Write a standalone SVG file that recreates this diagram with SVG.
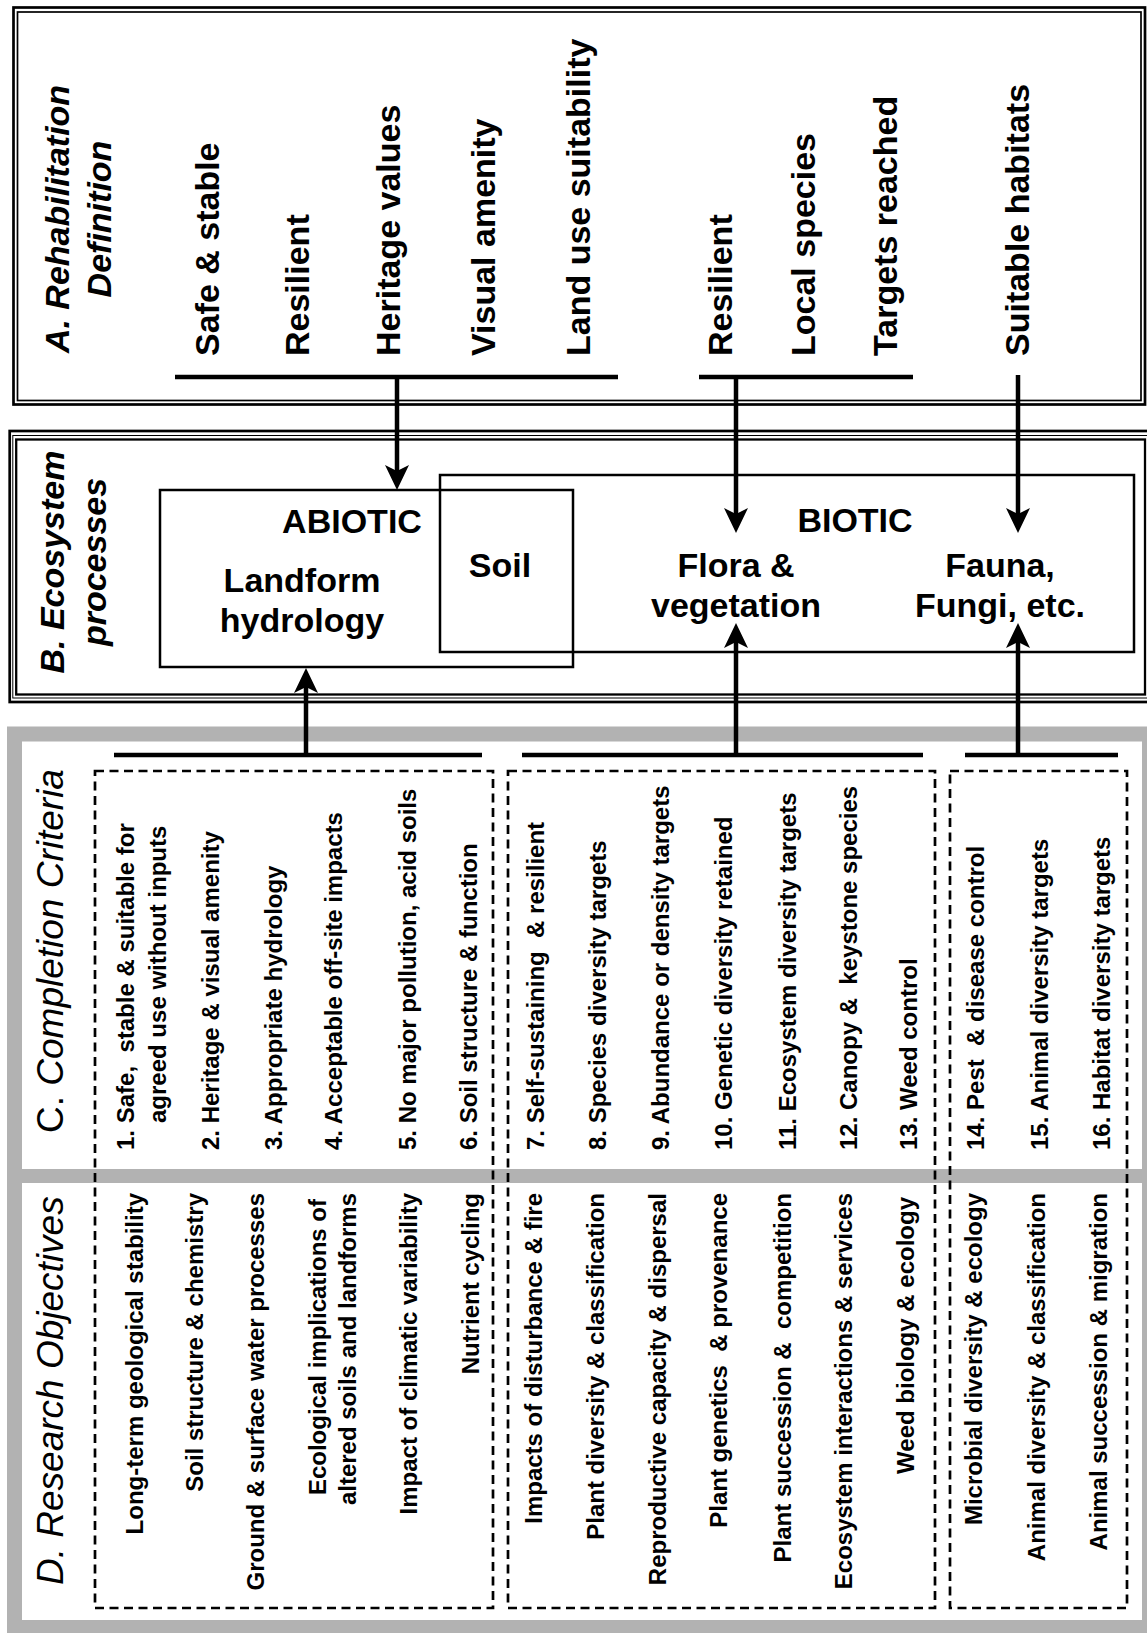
<svg xmlns="http://www.w3.org/2000/svg" width="1147" height="1633" viewBox="0 0 1147 1633">
<defs>
<style>
text{font-family:"Liberation Sans",Arial,Helvetica,sans-serif;fill:#000}
.lbl{font-weight:bold;font-size:34px}
.rot{dominant-baseline:central}
.ttl{font-weight:bold;font-style:italic;font-size:34px}
.ttl2{font-weight:normal;font-size:37px}
.it{font-style:italic}
.item{font-weight:bold;font-size:24px}
.end{text-anchor:end}
.mid{text-anchor:middle}
.dash{fill:none;stroke:#000;stroke-width:2.7;stroke-dasharray:9 5.5}
.conn{fill:none;stroke:#000;stroke-width:4.5}
.box{fill:none;stroke:#000;stroke-width:2.5}
.grey{fill:none;stroke:#b2b2b2}
</style>
<marker id="ah" viewBox="-11 -13 27 26" refX="0" refY="0" markerWidth="27" markerHeight="26" markerUnits="userSpaceOnUse" orient="auto">
<path d="M15,0 L-10,-12 L-4,0 L-10,12 Z" fill="#000"/>
</marker>
</defs>
<rect width="1147" height="1633" fill="#fff"/>

<!-- Panel A -->
<g id="panelA">
<rect x="13.5" y="7.5" width="1131.5" height="397" fill="none" stroke="#000" stroke-width="2.7"/>
<rect x="17.5" y="12" width="1123.5" height="388.5" fill="none" stroke="#000" stroke-width="1.7"/>
<text class="ttl mid rot" transform="translate(57,219) rotate(-90)">A. Rehabilitation</text>
<text class="ttl mid rot" transform="translate(99,219) rotate(-90)">Definition</text>
</g>
<g id="A-safe"><text class="lbl rot" transform="translate(207,356) rotate(-90)">Safe &amp; stable</text></g>
<g id="A-resilient1"><text class="lbl rot" transform="translate(297,356) rotate(-90)">Resilient</text></g>
<g id="A-heritage"><text class="lbl rot" transform="translate(388,356) rotate(-90)">Heritage values</text></g>
<g id="A-visual"><text class="lbl rot" transform="translate(483,356) rotate(-90)">Visual amenity</text></g>
<g id="A-landuse"><text class="lbl rot" transform="translate(578,356) rotate(-90)">Land use suitability</text></g>
<g id="A-resilient2"><text class="lbl rot" transform="translate(720,356) rotate(-90)">Resilient</text></g>
<g id="A-local"><text class="lbl rot" transform="translate(803,356) rotate(-90)">Local species</text></g>
<g id="A-targets"><text class="lbl rot" transform="translate(885,356) rotate(-90)">Targets reached</text></g>
<g id="A-habitats"><text class="lbl rot" transform="translate(1017,356) rotate(-90)">Suitable habitats</text></g>

<!-- Panel B -->
<g id="panelB">
<rect x="9.7" y="431" width="1141" height="271" fill="none" stroke="#000" stroke-width="2.7"/>
<rect x="12.8" y="435.5" width="1135.2" height="262.5" fill="none" stroke="#000" stroke-width="1"/>
<rect x="16.2" y="439.5" width="1128.8" height="255" fill="none" stroke="#000" stroke-width="2.3"/>
<text class="ttl mid rot" transform="translate(52,562) rotate(-90)">B. Ecosystem</text>
<text class="ttl mid rot" transform="translate(94,562) rotate(-90)">processes</text>
</g>
<g id="abiotic">
<rect class="box" x="160" y="490" width="413" height="177"/>
<text class="lbl mid" x="352" y="533">ABIOTIC</text>
<text class="lbl mid" x="302" y="592">Landform</text>
<text class="lbl mid" x="302" y="632">hydrology</text>
</g>
<g id="biotic">
<rect class="box" x="440" y="475" width="694" height="177"/>
<text class="lbl mid" x="855" y="532">BIOTIC</text>
</g>
<g id="soil"><text class="lbl mid" x="500" y="577">Soil</text></g>
<g id="flora">
<text class="lbl mid" x="736" y="577">Flora &amp;</text>
<text class="lbl mid" x="736" y="617">vegetation</text>
</g>
<g id="fauna">
<text class="lbl mid" x="1000" y="577">Fauna,</text>
<text class="lbl mid" x="1000" y="617">Fungi, etc.</text>
</g>

<!-- Panels C and D frame -->
<g id="frameCD">
<rect class="grey" x="14.5" y="734" width="1135" height="893.5" stroke-width="15"/>
<line class="grey" x1="7" y1="1176" x2="1147" y2="1176" stroke-width="14"/>
<text class="ttl2 rot" transform="translate(50,1133) rotate(-90)">C. <tspan class="it">Completion Criteria</tspan></text>
<text class="ttl2 it rot" transform="translate(50,1585) rotate(-90)">D. Research Objectives</text>
</g>

<g id="group-abiotic">
<rect class="dash" x="95" y="771" width="398" height="837"/>
</g>
<g id="group-flora">
<rect class="dash" x="508" y="771" width="427" height="837"/>
</g>
<g id="group-fauna">
<rect class="dash" x="950" y="771" width="177" height="837"/>
</g>

<!-- C items -->
<g id="C1"><text class="item rot" xml:space="preserve" transform="translate(125,1150) rotate(-90)">1. Safe,  stable &amp; suitable for</text><text class="item rot" transform="translate(157,1123) rotate(-90)">agreed use without inputs</text></g>
<g id="C2"><text class="item rot" transform="translate(210,1150) rotate(-90)">2. Heritage &amp; visual amenity</text></g>
<g id="C3"><text class="item rot" transform="translate(273,1150) rotate(-90)">3. Appropriate hydrology</text></g>
<g id="C4"><text class="item rot" transform="translate(333,1150) rotate(-90)">4. Acceptable off-site impacts</text></g>
<g id="C5"><text class="item rot" transform="translate(407,1150) rotate(-90)">5. No major pollution, acid soils</text></g>
<g id="C6"><text class="item rot" transform="translate(468,1150) rotate(-90)">6. Soil structure &amp; function</text></g>
<g id="C7"><text class="item rot" xml:space="preserve" transform="translate(535,1150) rotate(-90)">7. Self-sustaining  &amp; resilient</text></g>
<g id="C8"><text class="item rot" transform="translate(597,1150) rotate(-90)">8. Species diversity targets</text></g>
<g id="C9"><text class="item rot" transform="translate(660,1150) rotate(-90)">9. Abundance or density targets</text></g>
<g id="C10"><text class="item rot" transform="translate(723,1150) rotate(-90)">10. Genetic diversity retained</text></g>
<g id="C11"><text class="item rot" transform="translate(787,1150) rotate(-90)">11. Ecosystem diversity targets</text></g>
<g id="C12"><text class="item rot" xml:space="preserve" transform="translate(848,1150) rotate(-90)">12. Canopy &amp;  keystone species</text></g>
<g id="C13"><text class="item rot" transform="translate(908,1150) rotate(-90)">13. Weed control</text></g>
<g id="C14"><text class="item rot" xml:space="preserve" transform="translate(975,1150) rotate(-90)">14. Pest  &amp; disease control</text></g>
<g id="C15"><text class="item rot" transform="translate(1039,1150) rotate(-90)">15. Animal diversity targets</text></g>
<g id="C16"><text class="item rot" transform="translate(1101,1150) rotate(-90)">16. Habitat diversity targets</text></g>

<!-- D items -->
<g id="D1"><text class="item end rot" transform="translate(134,1193) rotate(-90)">Long-term geological stability</text></g>
<g id="D2"><text class="item end rot" transform="translate(194,1193) rotate(-90)">Soil structure &amp; chemistry</text></g>
<g id="D3"><text class="item end rot" transform="translate(255,1193) rotate(-90)">Ground &amp; surface water processes</text></g>
<g id="D4"><text class="item end rot" transform="translate(317,1199) rotate(-90)">Ecological implications of</text><text class="item end rot" transform="translate(347,1193) rotate(-90)">altered soils and landforms</text></g>
<g id="D5"><text class="item end rot" transform="translate(408,1193) rotate(-90)">Impact of climatic variability</text></g>
<g id="D6"><text class="item end rot" transform="translate(470,1193) rotate(-90)">Nutrient cycling</text></g>
<g id="D7"><text class="item end rot" transform="translate(533,1193) rotate(-90)">Impacts of disturbance &amp; fire</text></g>
<g id="D8"><text class="item end rot" transform="translate(595,1193) rotate(-90)">Plant diversity &amp; classification</text></g>
<g id="D9"><text class="item end rot" xml:space="preserve" transform="translate(657,1193) rotate(-90)">Reproductive capacity &amp; dispersal</text></g>
<g id="D10"><text class="item end rot" xml:space="preserve" transform="translate(718,1193) rotate(-90)">Plant genetics  &amp; provenance</text></g>
<g id="D11"><text class="item end rot" xml:space="preserve" transform="translate(782,1193) rotate(-90)">Plant succession &amp;  competition</text></g>
<g id="D12"><text class="item end rot" transform="translate(843,1193) rotate(-90)">Ecosystem interactions &amp; services</text></g>
<g id="D13"><text class="item end rot" transform="translate(905,1197) rotate(-90)">Weed biology &amp; ecology</text></g>
<g id="D14"><text class="item end rot" transform="translate(973,1193) rotate(-90)">Microbial diversity &amp; ecology</text></g>
<g id="D15"><text class="item end rot" transform="translate(1036,1193) rotate(-90)">Animal diversity &amp; classification</text></g>
<g id="D16"><text class="item end rot" transform="translate(1098,1193) rotate(-90)">Animal succession &amp; migration</text></g>

<!-- Connectors -->
<g id="connectors">
<path class="conn" d="M175,377 H618"/>
<path class="conn" d="M397,377 V475" marker-end="url(#ah)"/>
<path class="conn" d="M699,377 H913"/>
<path class="conn" d="M736,377 V518" marker-end="url(#ah)"/>
<path class="conn" d="M1018,375 V518" marker-end="url(#ah)"/>
<path class="conn" d="M114,755 H482"/>
<path class="conn" d="M306,755 V683" marker-end="url(#ah)"/>
<path class="conn" d="M522,755 H923"/>
<path class="conn" d="M736,755 V638" marker-end="url(#ah)"/>
<path class="conn" d="M965,755 H1118"/>
<path class="conn" d="M1018,755 V638" marker-end="url(#ah)"/>
</g>
</svg>
